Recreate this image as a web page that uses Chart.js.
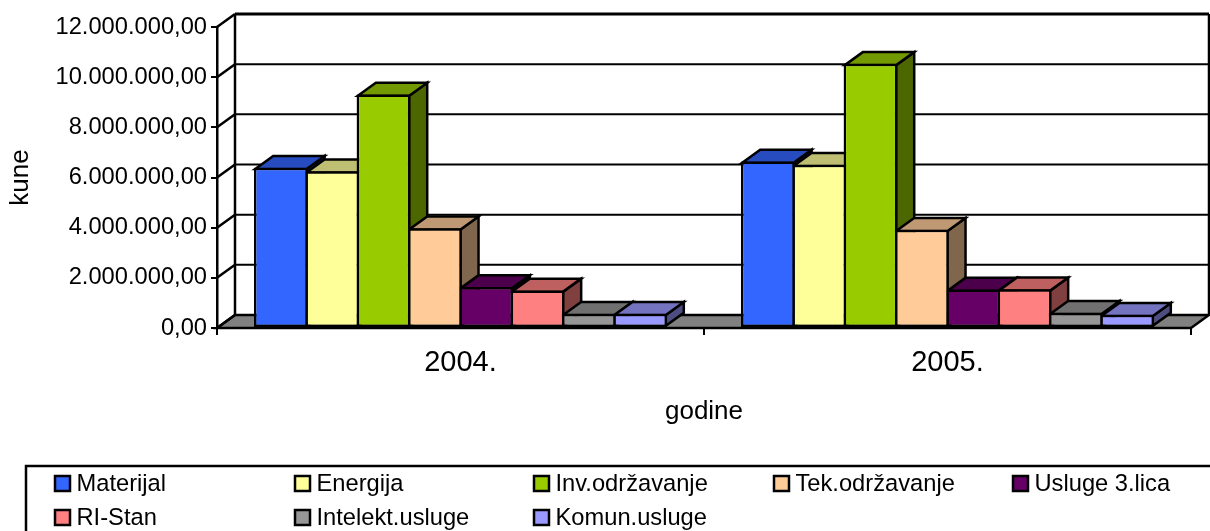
<!DOCTYPE html>
<html><head><meta charset="utf-8">
<style>html,body{margin:0;padding:0;background:#fff}canvas{display:block}</style>
<script src="https://cdn.jsdelivr.net/npm/chart.js@4"></script>
</head><body><canvas id="c" width="1210" height="531"></canvas>
<script>
const categories = ['2004.', '2005.'];
const seriesNames = ['Materijal','Energija','Inv.održavanje','Tek.održavanje','Usluge 3.lica','RI-Stan','Intelekt.usluge','Komun.usluge'];
const materijal = [6390000, 6640000];
const energija = [6250000, 6510000];
const invOdrzavanje = [9310000, 10530000];
const tekOdrzavanje = [3980000, 3920000];
const usluge3Lica = [1630000, 1530000];
const riStan = [1500000, 1540000];
const intelektUsluge = [570000, 610000];
const komunUsluge = [570000, 530000];
const seriesValues = [materijal, energija, invOdrzavanje, tekOdrzavanje, usluge3Lica, riStan, intelektUsluge, komunUsluge];
const frontColors = ['#3366FF','#FFFF99','#99CC00','#FFCC99','#660066','#FF8080','#969696','#9999FF'];
const topColors = ['#264CBF','#BFBF73','#739900','#BF9973','#4C004C','#BF6060','#707070','#7373BF'];
const sideColors = ['#1A3380','#80804D','#4C6600','#80664D','#330033','#804040','#4B4B4B','#4D4D80'];
const yTickLabels = ['0,00','2.000.000,00','4.000.000,00','6.000.000,00','8.000.000,00','10.000.000,00','12.000.000,00'];

const FONT = '"Liberation Sans", Arial, sans-serif';
const DX = 18, DY = -13;
const LW = 2.5;

function poly(ctx, pts, fill, lw) {
  ctx.beginPath();
  pts.forEach((p, i) => i ? ctx.lineTo(p[0], p[1]) : ctx.moveTo(p[0], p[1]));
  ctx.closePath();
  if (fill) { ctx.fillStyle = fill; ctx.fill(); }
  ctx.lineWidth = lw; ctx.strokeStyle = '#000'; ctx.lineJoin = 'miter'; ctx.stroke();
}
function line(ctx, x1, y1, x2, y2, lw) {
  ctx.beginPath(); ctx.moveTo(x1, y1); ctx.lineTo(x2, y2);
  ctx.lineWidth = lw; ctx.strokeStyle = '#000'; ctx.stroke();
}

const wall3d = {
  id: 'wall3d',
  beforeDatasetsDraw(chart) {
    const { ctx, chartArea: a, scales: { y } } = chart;
    ctx.save();
    poly(ctx, [[a.left, a.bottom], [a.left + DX, a.bottom + DY], [a.right + DX, a.bottom + DY], [a.right, a.bottom]], '#808080', LW);
    y.ticks.forEach(t => {
      const py = y.getPixelForValue(t.value);
      line(ctx, a.left, py, a.left + DX, py + DY, LW);
      line(ctx, a.left + DX, py + DY, a.right + DX, py + DY, t.value === y.max ? 3 : 2);
    });
    line(ctx, a.left + DX, a.top + DY, a.left + DX, a.bottom + DY, LW);
    line(ctx, a.right + DX, a.top + DY, a.right + DX, a.bottom + DY, LW);
    // depth faces, painted left to right so that each bar overlaps its left neighbour
    categories.forEach((_, c) => {
      seriesValues.forEach((__, i) => {
        const el = chart.getDatasetMeta(i).data[c];
        const h = LW / 2;
        const l = el.x - el.width / 2 + h, r = el.x + el.width / 2 - h, t = el.y + h, b = el.base - h;
        poly(ctx, [[r, t], [r + DX, t + DY], [r + DX, b + DY], [r, b]], sideColors[i], LW);
        poly(ctx, [[l, t], [l + DX, t + DY], [r + DX, t + DY], [r, t]], topColors[i], LW);
      });
    });
    ctx.restore();
  },
  afterDraw(chart) {
    const ctx = chart.ctx;
    ctx.save();
    ctx.strokeStyle = '#000'; ctx.lineWidth = LW;
    ctx.strokeRect(26, 466, 1200, 80);
    ctx.font = '23.7px ' + FONT; ctx.textBaseline = 'middle'; ctx.textAlign = 'left';
    seriesNames.forEach((name, i) => {
      const col = i % 5, row = Math.floor(i / 5);
      const x = Math.round(55 + col * 239.5), yy = 476 + row * 34;
      ctx.fillStyle = frontColors[i];
      ctx.fillRect(x, yy, 15, 15);
      ctx.strokeRect(x, yy, 15, 15);
      ctx.fillStyle = '#000';
      ctx.fillText(name, x + 21.5, yy + 8);
    });
    ctx.restore();
  }
};

new Chart(document.getElementById('c'), {
  type: 'bar',
  data: {
    labels: categories,
    datasets: seriesValues.map((vals, i) => ({
      label: seriesNames[i],
      data: vals,
      backgroundColor: frontColors[i],
      borderColor: '#000',
      borderWidth: LW,
      borderSkipped: false,
      categoryPercentage: 0.843,
      barPercentage: 1.05
    }))
  },
  options: {
    responsive: false,
    animation: false,
    layout: { padding: { top: 27, right: 19, left: 0, bottom: 0 } },
    plugins: { legend: { display: false }, title: { display: false }, tooltip: { enabled: false } },
    scales: {
      x: {
        afterFit: s => { s.height = 203; },
        grid: { drawOnChartArea: false, drawTicks: true, tickLength: 7, tickColor: '#000', tickWidth: 2, lineWidth: 2, color: '#000' },
        border: { color: '#000', width: 2 },
        ticks: { color: '#000', font: { family: FONT, size: 29 }, padding: 11, maxRotation: 0 },
        title: { display: true, text: 'godine', color: '#000', font: { family: FONT, size: 26 }, padding: { top: 0, bottom: 104 } }
      },
      y: {
        min: 0, max: 12000000,
        afterFit: s => { s.width = 217; },
        grid: { drawOnChartArea: false, drawTicks: true, tickLength: 6, tickColor: '#000', tickWidth: 2, lineWidth: 2, color: '#000' },
        border: { color: '#000', width: 2.5 },
        ticks: { stepSize: 2000000, color: '#000', font: { family: FONT, size: 23.7 }, padding: 4,
          callback: (v, idx) => yTickLabels[idx] },
        title: { display: true, text: 'kune', color: '#000', font: { family: FONT, size: 26 }, padding: { top: 5, bottom: 0 } }
      }
    }
  },
  plugins: [wall3d]
});
</script></body></html>
